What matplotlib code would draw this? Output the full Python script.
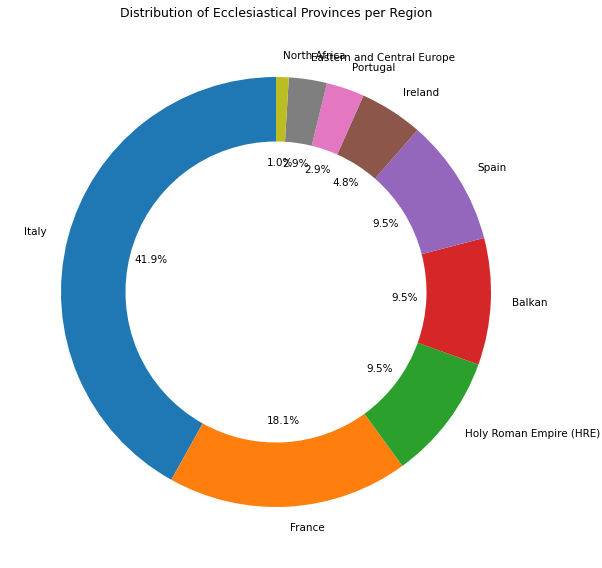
import matplotlib
matplotlib.use("Agg")
import matplotlib.pyplot as plt

regions = ["Italy", "France", "Holy Roman Empire (HRE)", "Balkan", "Spain",
           "Ireland", "Portugal", "Eastern and Central Europe", "North Africa"]
provinces = [44, 19, 10, 10, 10, 5, 3, 3, 1]

fig = plt.figure(figsize=(6.02, 5.68), dpi=100)
ax = fig.add_axes([0, 0, 1, 540 / 568])

ax.pie(
    provinces,
    labels=regions,
    autopct="%1.1f%%",
    startangle=90,
    wedgeprops=dict(width=0.3),
    textprops=dict(fontsize=7.5),
)
ax.set_aspect("equal")
ax.set_xlim(-276 / 215, 326 / 215)
ax.set_ylim(-276 / 215, 264 / 215)
fig.text(276 / 602, 1 - 13 / 568, "Distribution of Ecclesiastical Provinces per Region",
         ha="center", va="center", fontsize=9)

fig.savefig("out.png", dpi=100)
